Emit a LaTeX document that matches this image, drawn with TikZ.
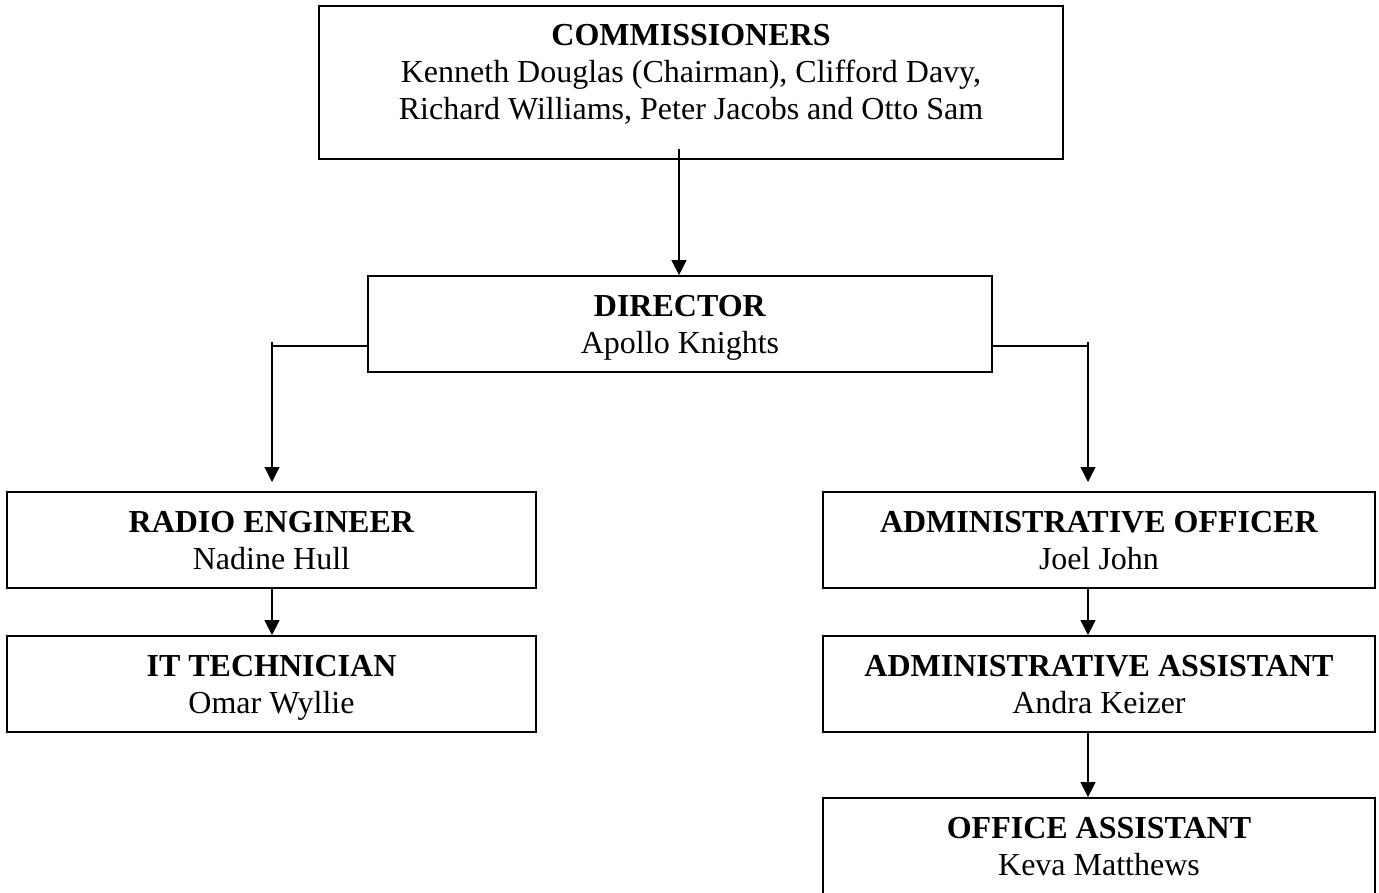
\documentclass[tikz,border=0pt]{standalone}
\usepackage{fontspec}
\setmainfont{Liberation Serif}
\usetikzlibrary{arrows.meta}
\newcommand{\lastln}[1]{#1\vphantom{y}}
\newcommand{\firstln}[1]{\rule{0pt}{29pt}\textbf{#1}}
\tikzset{
  box/.style={draw=black, line width=1.8pt, rectangle, inner sep=0pt, align=center,
    font=\fontsize{32}{37}\selectfont},
  conn/.style={draw=black, line width=1.3pt},
  arr/.style={conn, -{Triangle[length=15pt,width=15pt]}},
  lbl/.style={inner sep=0pt, align=center, font=\fontsize{32}{37}\selectfont}
}
\begin{document}
\begin{tikzpicture}[x=1pt,y=-1pt]
\useasboundingbox (0,0) rectangle (1379,892);
% boxes
\node[box, minimum width=744pt, minimum height=153pt] (comm) at (691,82.5) {};
\node[lbl, anchor=north] (commt) at (691,24) {\textbf{COMMISSIONERS}\\Kenneth Douglas (Chairman), Clifford Davy,\\Richard Williams, Peter Jacobs and Otto Sam};
\node[box, minimum width=624pt, minimum height=96pt] (dir) at (680,324) {\firstln{DIRECTOR}\\\lastln{Apollo Knights}};
\node[box, minimum width=529pt, minimum height=96pt] (radio) at (271.5,540) {\firstln{RADIO ENGINEER}\\\lastln{Nadine Hull}};
\node[box, minimum width=529pt, minimum height=96pt] (it) at (271.5,684) {\firstln{IT TECHNICIAN}\\\lastln{Omar Wyllie}};
\node[box, minimum width=552pt, minimum height=96pt] (admo) at (1099,540) {\firstln{ADMINISTRATIVE OFFICER}\\\lastln{Joel John}};
\node[box, minimum width=552pt, minimum height=96pt] (adma) at (1099,684) {\firstln{ADMINISTRATIVE ASSISTANT}\\\lastln{Andra Keizer}};
\node[box, minimum width=552pt, minimum height=96pt] (offa) at (1099,846) {\firstln{OFFICE ASSISTANT}\\\lastln{Keva Matthews}};
% connector coordinates
\coordinate (cstart) at (679,149);
\coordinate (ltop) at (272,342);
\coordinate (lbend) at (272,346);
\coordinate (lend) at (272,482);
\coordinate (rtop) at (1088,342);
\coordinate (rbend) at (1088,346);
\coordinate (rend) at (1088,482);
% connectors
\draw[arr] (cstart) -- (cstart |- dir.north);
\draw[conn] (dir.west |- lbend) -- (lbend);
\draw[arr] (ltop) -- (lend);
\draw[conn] (dir.east |- rbend) -- (rbend);
\draw[arr] (rtop) -- (rend);
\draw[arr] (radio.south -| ltop) -- (it.north -| ltop);
\draw[arr] (admo.south -| rtop) -- (adma.north -| rtop);
\draw[arr] (adma.south -| rtop) -- (offa.north -| rtop);
\end{tikzpicture}
\end{document}
